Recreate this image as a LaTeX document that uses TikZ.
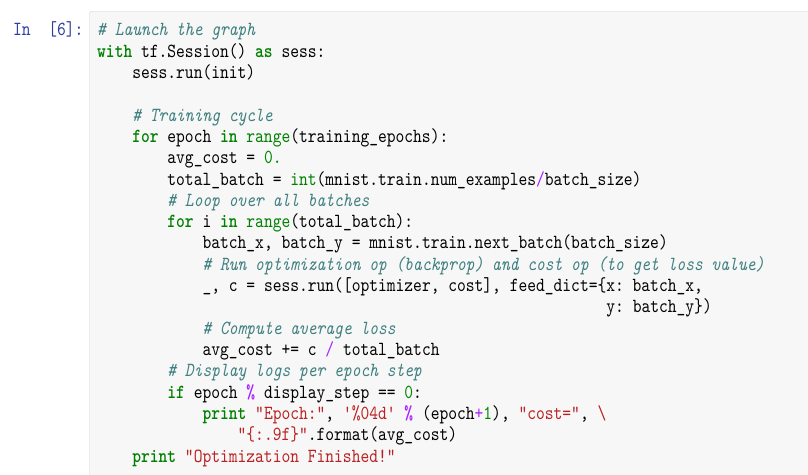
\documentclass[tikz,border=0pt]{standalone}
\usepackage{fontspec}
\setmonofont{lmmono10-regular.otf}[BoldFont=lmmonolt10-bold.otf, ItalicFont=lmmono10-italic.otf, FakeStretch=0.836]
\definecolor{kwc}{HTML}{008000}
\definecolor{cmtc}{HTML}{408080}
\definecolor{strc}{HTML}{BA2121}
\definecolor{numc}{HTML}{008800}
\definecolor{opc}{HTML}{AA22FF}
\definecolor{promptc}{HTML}{303F9F}
\definecolor{cellbg}{HTML}{F7F7F7}
\definecolor{cellbd}{HTML}{CFCFCF}
\newcommand\kwd[1]{{\bfseries\color{kwc}#1}}
\newcommand\bif[1]{{\color{kwc}#1}}
\newcommand\nmb[1]{{\color{numc}#1}}
\newcommand\strg[1]{{\color{strc}#1}}
\newcommand\opr[1]{{\color{opc}#1}}
\newcommand\cmnt[1]{{\itshape\color{cmtc}#1}}
\begin{document}
\begin{tikzpicture}[x=1bp,y=-1bp,
  code/.style={anchor=base west, inner sep=0pt, text=black, font=\ttfamily\fontsize{20bp}{23bp}\selectfont},
  promptstyle/.style={code, text=promptc}]
\useasboundingbox (0,0) rectangle (808,475);
\fill[white] (0,0) rectangle (808,475);
\begin{scope}
\clip (0,0) rectangle (808,475);
\draw[cellbd, fill=cellbg, rounded corners=2bp] (89.5,11.5) rectangle (850,530);
\end{scope}
\node[promptstyle] (prompt) at (13,36) {In\ \ [6]:};
\node[code] (l1) at ({97+8.78*0},{36+21.3*0}) {\cmnt{\# Launch the graph}};
\node[code] (l2) at ({97+8.78*0},{36+21.3*1}) {\kwd{with} tf.Session() \kwd{as} sess:};
\node[code] (l3) at ({97+8.78*4},{36+21.3*2}) {sess.run(init)};
\node[code] (l5) at ({97+8.78*4},{36+21.3*4}) {\cmnt{\# Training cycle}};
\node[code] (l6) at ({97+8.78*4},{36+21.3*5}) {\kwd{for} epoch \kwd{in} \bif{range}(training\_epochs):};
\node[code] (l7) at ({97+8.78*8},{36+21.3*6}) {avg\_cost = \nmb{0.}};
\node[code] (l8) at ({97+8.78*8},{36+21.3*7}) {total\_batch = \bif{int}(mnist.train.num\_examples\opr{/}batch\_size)};
\node[code] (l9) at ({97+8.78*8},{36+21.3*8}) {\cmnt{\# Loop over all batches}};
\node[code] (l10) at ({97+8.78*8},{36+21.3*9}) {\kwd{for} i \kwd{in} \bif{range}(total\_batch):};
\node[code] (l11) at ({97+8.78*12},{36+21.3*10}) {batch\_x, batch\_y = mnist.train.next\_batch(batch\_size)};
\node[code] (l12) at ({97+8.78*12},{36+21.3*11}) {\cmnt{\# Run optimization op (backprop) and cost op (to get loss value)}};
\node[code] (l13) at ({97+8.78*12},{36+21.3*12}) {\_, c = sess.run([optimizer, cost], feed\_dict=\{x: batch\_x,};
\node[code] (l14) at ({97+8.78*58},{36+21.3*13}) {y: batch\_y\})};
\node[code] (l15) at ({97+8.78*12},{36+21.3*14}) {\cmnt{\# Compute average loss}};
\node[code] (l16) at ({97+8.78*12},{36+21.3*15}) {avg\_cost += c \opr{/} total\_batch};
\node[code] (l17) at ({97+8.78*8},{36+21.3*16}) {\cmnt{\# Display logs per epoch step}};
\node[code] (l18) at ({97+8.78*8},{36+21.3*17}) {\kwd{if} epoch \opr{\bfseries\%} display\_step == \nmb{0}:};
\node[code] (l19) at ({97+8.78*12},{36+21.3*18}) {\kwd{print} \strg{"Epoch:"}, \strg{'\%04d'} \opr{\bfseries\%} (epoch\opr{+}\nmb{1}), \strg{"cost="}, \strg{\textbackslash}};
\node[code] (l20) at ({97+8.78*16},{36+21.3*19}) {\strg{"\{:.9f\}"}.format(avg\_cost)};
\node[code] (l21) at ({97+8.78*4},{36+21.3*20}) {\kwd{print} \strg{"Optimization Finished!"}};
\end{tikzpicture}
\end{document}
